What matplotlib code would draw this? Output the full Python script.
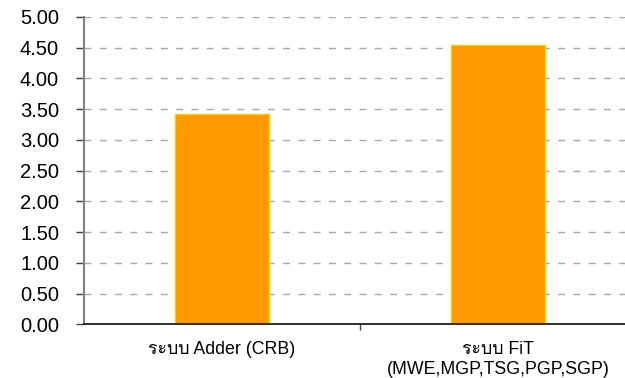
import numpy as np
import matplotlib.pyplot as plt
from matplotlib import font_manager
from matplotlib.ft2font import FT2Font

# หาฟอนต์ที่มีตัวอักษรไทย
thai_fam = None
for f in font_manager.fontManager.ttflist:
    try:
        if ord('ร') in FT2Font(f.fname).get_charmap():
            thai_fam = f.name
            break
    except Exception:
        pass

fams = ['Liberation Sans', 'DejaVu Sans']
if thai_fam:
    fams.append(thai_fam)
plt.rcParams['font.family'] = fams

# ข้อมูล
categories = ['ระบบ Adder (CRB)', 'ระบบ FiT\n(MWE,MGP,TSG,PGP,SGP)']
values = [3.42, 4.54]
yticks = np.arange(0, 5.01, 0.5)

fig = plt.figure(figsize=(6.25, 3.78), dpi=100)
ax = fig.add_axes([84 / 625, 1 - 324.3 / 378, 552 / 625, 307.3 / 378])

x = np.arange(len(categories))
ax.bar(x, values, width=0.34, color='#ff9900', edgecolor='#ffcc00', linewidth=1.0, zorder=3)

ax.set_xlim(-0.5, 1.5)
ax.set_ylim(0, 5)
ax.set_yticks(yticks)
ax.set_yticklabels(['%.2f' % v for v in yticks], fontsize=14.5)
ax.yaxis.grid(True, color='#a8a8a8', linestyle=(0, (5, 6)), linewidth=1.0, zorder=0)

ax.set_xticks(x)
ax.set_xticklabels(categories, fontsize=12.8, linespacing=1.2)
ax.set_xticks([0.5], minor=True)
ax.tick_params(axis='x', which='major', length=0, pad=12)
ax.tick_params(axis='x', which='minor', length=4, width=1, color='#404040', direction='out')
ax.tick_params(axis='y', length=6, width=1, color='#404040', pad=12)

for side in ['top', 'right']:
    ax.spines[side].set_visible(False)
ax.spines['left'].set_color('#808080')
ax.spines['left'].set_linewidth(1.5)
ax.spines['bottom'].set_color('#202020')
ax.spines['bottom'].set_linewidth(1.3)
ax.spines['bottom'].set_zorder(4)

fig.savefig('out.png', dpi=100)
